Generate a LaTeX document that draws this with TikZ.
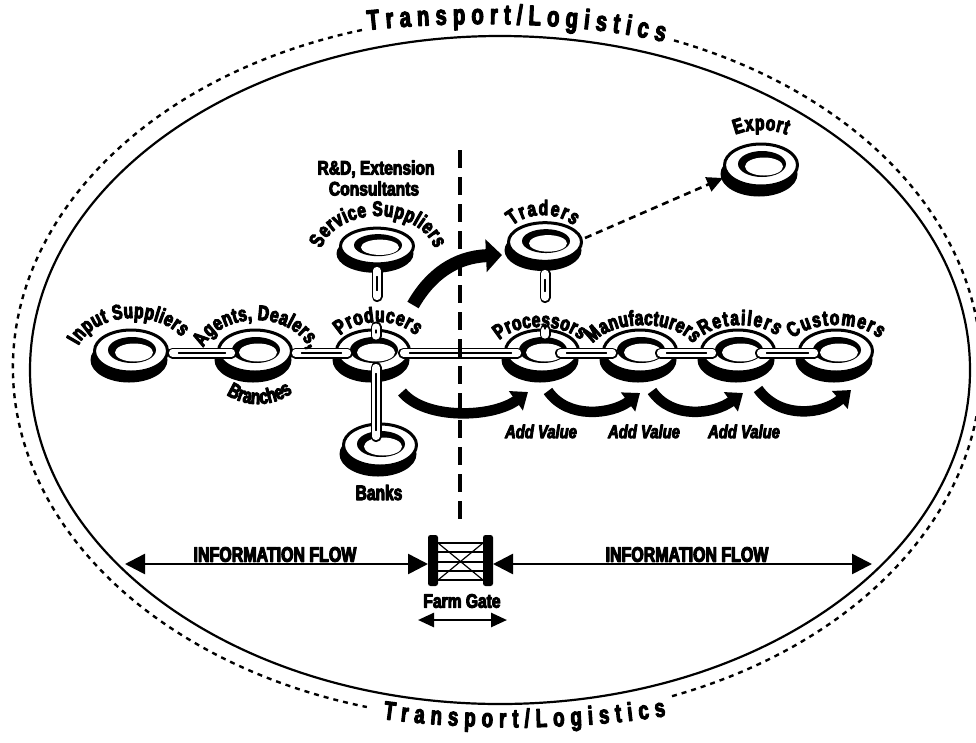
\documentclass[tikz,border=0pt]{standalone}
\usepackage{fontspec}
\usetikzlibrary{arrows.meta,calc,decorations.text}
\newfontfamily\heavyfont{Liberation Sans}[UprightFont=* Bold, ItalicFont=* Bold Italic, FakeStretch=0.8, FakeBold=5]
\newfontfamily\tallfont{Liberation Sans}[UprightFont=* Bold, FakeStretch=0.74, FakeBold=5]
\newfontfamily\widefont{Liberation Sans}[UprightFont=* Bold, FakeStretch=0.72, FakeBold=4]
\newfontfamily\flowfont{Liberation Sans}[UprightFont=* Bold, FakeStretch=0.76, FakeBold=5]
\newcommand\lbl{\heavyfont\fontsize{19.5}{19.5}\selectfont}
\newcommand\ringlbl{\tallfont\fontsize{21}{21}\selectfont}
% curved label along an elliptic arc: cx, cy (downwards), x radius, y radius, start, end, text
\newcommand\arclabel[7]{%
  \path[decorate, decoration={text along path, text align=fit to path, text={|\ringlbl|#7}}]
    ($(#1,-#2)+(#5:#3 and #4)$) arc[start angle=#5, end angle=#6, x radius=#3, y radius=#4];}
\begin{document}
\begin{tikzpicture}[x=1pt, y=1pt, line join=round,
  ring/.pic={
    \fill (-2,-9) ellipse[x radius=38.5, y radius=22.5];
    \filldraw[fill=white, line width=3] (0,0) ellipse[x radius=36.5, y radius=21];
    \fill (1,1) ellipse[x radius=24, y radius=13];
    \fill[white] (3,-1.5) ellipse[x radius=19, y radius=9];
  },
  chainlink/.style={line width=11, line cap=round,
    postaction={draw=white, line width=7.2},
    postaction={draw=black, line width=1.1, shorten >=6, shorten <=6}},
  addvalue/.style={line width=10.5, -{Triangle[length=15pt,width=23pt]}},
  flow/.style={line width=2.6, {Triangle[length=20pt,width=20pt]}-{Triangle[length=20pt,width=20pt]}},
  textnode/.style={font=\lbl, inner sep=0pt},
]
\useasboundingbox (0,0) rectangle (976,-742);
\fill[white] (0,0) rectangle (976,-742);

% outer boundary and transport ring
\draw[line width=2.2] (500,-370) ellipse[x radius=470, y radius=334];
\draw[line width=2.4, dash pattern=on 5pt off 5pt]
  ($(497,-368)+(106.2:484 and 352)$) arc[start angle=106.2, end angle=254.4, x radius=484, y radius=352];
\draw[line width=2.4, dash pattern=on 5pt off 5pt]
  ($(497,-368)+(291.2:484 and 352)$) arc[start angle=291.2, end angle=429.06, x radius=484, y radius=352];
\path[decorate, decoration={text along path, text align=fit to path,
  text={|\widefont\fontsize{28}{28}\selectfont|Transport/Logistics}}]
  (368,-30) .. controls (455,-21) and (570,-20) .. (664,-42);
\path[decorate, decoration={text along path, text align=fit to path,
  text={|\widefont\fontsize{26}{26}\selectfont|Transport/Logistics}}]
  (383,-719) .. controls (470,-731) and (580,-730) .. (666,-716);

% ring positions
\coordinate (inp) at (131,-351);
\coordinate (agt) at (255,-351);
\coordinate (prd) at (373,-351);
\coordinate (svc) at (377,-246);
\coordinate (bnk) at (380,-445);
\coordinate (trd) at (545,-242);
\coordinate (pro) at (542,-351);
\coordinate (man) at (640,-351);
\coordinate (ret) at (738,-351);
\coordinate (cus) at (836,-351);
\coordinate (exq) at (761,-165);

\foreach \r in {inp,agt,prd,bnk,pro,man,ret,cus} \pic at (\r) {ring};
\pic[yscale=0.85] at (svc) {ring};
\pic[yscale=0.92] at (trd) {ring};
\pic at (exq) {ring};

% chain links
\draw[chainlink] ($(inp)+(41.5,-2)$) -- ($(agt)+(-23.5,-2)$);
\draw[chainlink] ($(agt)+(40.5,-2)$) -- ($(prd)+(-25.5,-2)$);
\draw[chainlink] ($(prd)+(30.5,-2)$) -- ($(pro)+(-24.5,-2)$);
\draw[chainlink] ($(pro)+(18.5,-2)$) -- ($(man)+(-27.5,-2)$);
\draw[chainlink] ($(man)+(20.5,-2)$) -- ($(ret)+(-25.5,-2)$);
\draw[chainlink] ($(ret)+(22.5,-2)$) -- ($(cus)+(-21.5,-2)$);
\draw[chainlink] ($(svc)+(0,-24.5)$) -- ($(svc)+(0,-50.5)$);
\draw[chainlink] ($(prd)+(3,24)$) -- ($(prd)+(3,15)$);
\draw[chainlink] ($(prd)+(3,-16.5)$) -- ($(bnk)+(-4,8.5)$);
\draw[chainlink] ($(trd)+(0,-31.5)$) -- ($(trd)+(0,-55.5)$);
\draw[chainlink] ($(pro)+(3,21)$) -- ($(pro)+(3,16)$);

% farm boundary
\coordinate (divtop) at (460,-150);
\coordinate (divbot) at (460,-523);
\draw[line width=3.5, dash pattern=on 18pt off 9pt] (divtop) -- (divbot);

% producers to traders
\draw[line width=13, -{Triangle[length=16pt,width=32pt]}]
  ($(prd)+(40,46)$) .. controls (430,-275) and (455,-257) .. ($(trd)+(-43,-13)$);
% traders to export
\draw[line width=2.6, dash pattern=on 7pt off 5pt, -{Triangle[length=16pt,width=15pt]}]
  ($(trd)+(40,4)$) -- ($(exq)+(-38,-13)$);

% value adding steps
\draw[addvalue] ($(prd)+(29,-41)$) .. controls (425,-420) and (492,-418) .. ($(pro)+(-14,-41)$);
\draw[addvalue] ($(pro)+(6,-40)$) .. controls (568,-420) and (612,-414) .. ($(man)+(0,-42)$);
\draw[addvalue] ($(man)+(12,-40)$) .. controls (672,-420) and (714,-414) .. ($(ret)+(5,-42)$);
\draw[addvalue] ($(ret)+(20,-38)$) .. controls (780,-420) and (824,-414) .. ($(cus)+(15,-39)$);
\node[textnode, font=\heavyfont\itshape\fontsize{18.5}{18.5}\selectfont] (av1) at (541,-431.5) {Add Value};
\node[textnode, font=\heavyfont\itshape\fontsize{18.5}{18.5}\selectfont] (av2) at (644,-431.5) {Add Value};
\node[textnode, font=\heavyfont\itshape\fontsize{18.5}{18.5}\selectfont] (av3) at (744,-431.5) {Add Value};

% ring labels
\arclabel{133}{360}{58}{42}{160}{33}{Input Suppliers}
\arclabel{256}{362}{56}{42}{160}{18}{Agents, Dealers,}
\arclabel{258}{352}{55}{52}{235}{305}{Branches}
\arclabel{378}{352}{45}{30}{147}{33}{Producers}
\arclabel{378}{258}{58}{42}{167}{13}{Service Suppliers}
\arclabel{543}{245}{40}{30}{140}{40}{Traders}
\arclabel{761}{150}{40}{20}{130}{50}{Export}
\arclabel{540}{352}{46}{25}{152}{28}{Processors}
\arclabel{643}{355}{54}{30}{158}{22}{Manufacturers}
\arclabel{740}{350}{45}{25}{145}{35}{Retailers}
\arclabel{836}{352}{50}{27}{150}{30}{Customers}
\node[textnode, font=\ringlbl] (banks) at (379,-492.5) {Banks};
\node[textnode, font=\lbl\fontsize{19.5}{19.5}\selectfont] (rd) at (376,-169) {R\&D, Extension};
\node[textnode, font=\lbl\fontsize{19.5}{19.5}\selectfont] (cons) at (374,-188.5) {Consultants};

% farm gate
\fill[rounded corners=2.5] (428,-535) rectangle (438,-586);
\fill[rounded corners=2.5] (483,-535) rectangle (493,-586);
\foreach \yy in {543,552,562,571,580} \draw[line width=1.5] (438,-\yy) -- (483,-\yy);
\draw[line width=1.2] (438,-543) -- (483,-580) (438,-580) -- (483,-543);
\coordinate (gateL) at (428,-564);
\coordinate (gateR) at (493,-564);
\node[textnode, font=\lbl] (fg) at (462,-601) {Farm Gate};
\coordinate (fgL) at (418,-620);
\coordinate (fgR) at (507,-620);
\draw[line width=2.6, {Triangle[length=16pt,width=14pt]}-{Triangle[length=16pt,width=14pt]}] (fgL) -- (fgR);

% information flow
\coordinate (ifL) at (125,-564);
\coordinate (ifR) at (872,-564);
\draw[flow] (ifL) -- (gateL);
\draw[flow] (gateR) -- (ifR);
\node[textnode, font=\flowfont\fontsize{21}{21}\selectfont] (if1) at (275,-554.5) {INFORMATION FLOW};
\node[textnode, font=\flowfont\fontsize{21}{21}\selectfont] (if2) at (687,-554.5) {INFORMATION FLOW};
\end{tikzpicture}
\end{document}
